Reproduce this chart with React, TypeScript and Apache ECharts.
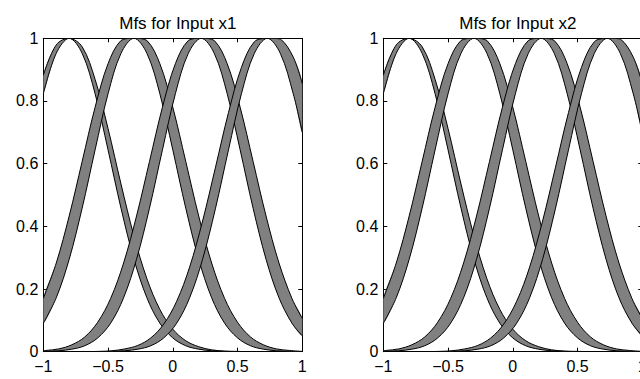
import React, { useEffect, useRef } from "react";
import * as echarts from "echarts";

const titles = ["Mfs for Input x1", "Mfs for Input x2"];
const xTickValues = [-1, -0.5, 0, 0.5, 1];
const yTickValues = [0, 0.2, 0.4, 0.6, 0.8, 1];

// Membership functions (upper / lower bounds of each band)
const mf1X = [-1, -0.9, -0.8, -0.7, -0.6, -0.5, -0.4, -0.3, -0.2, -0.1, 0, 0.1, 0.2, 0.3, 0.4, 0.5, 0.6, 0.7, 0.8, 0.9, 1];
const mf1Upper = [0.882, 0.979, 1, 0.973, 0.869, 0.712, 0.535, 0.369, 0.233, 0.135, 0.072, 0.035, 0.016, 0.006, 0.002, 0.001, 0, 0, 0, 0, 0];
const mf1Lower = [0.823, 0.952, 1, 0.952, 0.823, 0.644, 0.458, 0.295, 0.172, 0.091, 0.044, 0.019, 0.008, 0.003, 0.001, 0, 0, 0, 0, 0, 0];

const mf2X = [-1, -0.9, -0.8, -0.7, -0.6, -0.5, -0.4, -0.3, -0.2, -0.1, 0, 0.1, 0.2, 0.3, 0.4, 0.5, 0.6, 0.7, 0.8, 0.9, 1];
const mf2Upper = [0.17, 0.283, 0.433, 0.607, 0.78, 0.919, 0.993, 1, 0.993, 0.919, 0.78, 0.607, 0.433, 0.283, 0.17, 0.094, 0.047, 0.022, 0.009, 0.004, 0.001];
const mf2Lower = [0.091, 0.172, 0.295, 0.458, 0.644, 0.823, 0.952, 1, 0.952, 0.823, 0.644, 0.458, 0.295, 0.172, 0.091, 0.044, 0.019, 0.008, 0.003, 0.001, 0];

const mf3X = [-1, -0.98, -0.88, -0.78, -0.68, -0.58, -0.48, -0.38, -0.28, -0.18, -0.08, 0.02, 0.12, 0.22, 0.32, 0.42, 0.52, 0.62, 0.72, 0.82, 0.92, 1];
const mf3Upper = [0.003, 0.004, 0.009, 0.022, 0.047, 0.094, 0.17, 0.283, 0.433, 0.607, 0.78, 0.919, 0.993, 1, 0.993, 0.919, 0.78, 0.607, 0.433, 0.283, 0.17, 0.106];
const mf3Lower = [0.001, 0.001, 0.003, 0.008, 0.019, 0.044, 0.091, 0.172, 0.295, 0.458, 0.644, 0.823, 0.952, 1, 0.952, 0.823, 0.644, 0.458, 0.295, 0.172, 0.091, 0.051];

const mf4X = [-1, -0.97, -0.87, -0.77, -0.67, -0.57, -0.47, -0.37, -0.27, -0.17, -0.07, 0.03, 0.13, 0.23, 0.33, 0.43, 0.53, 0.63, 0.73, 0.83, 0.93, 1];
const mf4Upper = [0, 0, 0, 0, 0, 0.001, 0.003, 0.009, 0.02, 0.044, 0.088, 0.161, 0.27, 0.417, 0.589, 0.763, 0.907, 0.989, 1, 0.998, 0.94, 0.855];
const mf4Lower = [0, 0, 0, 0, 0, 0, 0.001, 0.003, 0.008, 0.019, 0.044, 0.091, 0.172, 0.295, 0.458, 0.644, 0.823, 0.952, 1, 0.952, 0.823, 0.7];

const input1Mfs = [
  { x: mf1X, upper: mf1Upper, lower: mf1Lower },
  { x: mf2X, upper: mf2Upper, lower: mf2Lower },
  { x: mf3X, upper: mf3Upper, lower: mf3Lower },
  { x: mf4X, upper: mf4Upper, lower: mf4Lower },
];
// Input x2 looks identical to input x1 in the picture
const input2Mfs = input1Mfs;

const FONT = "'Liberation Sans', Arial, Helvetica, sans-serif";
const GRID_LEFTS = [43.3, 383.3];
const GRID_TOP = 38.3;
const GRID_W = 259;
const GRID_H = 313.4;
const SMOOTH = 0.35;

function fmtX(v: number) {
  if (v < 0) return "\u2212" + String(Math.abs(v));
  return String(v);
}
function fmtY(v: number) {
  return String(+v.toFixed(1));
}

export default function App() {
  const ref = useRef<HTMLDivElement>(null);
  useEffect(() => {
    if (!ref.current) return;
    const chart = echarts.init(ref.current, undefined, { renderer: "svg" });
    const allMfs = [input1Mfs, input2Mfs];

    const grids: any[] = [];
    const xAxes: any[] = [];
    const yAxes: any[] = [];
    const series: any[] = [];
    const titleOpts: any[] = [];

    const axisLine = { show: true, onZero: false, lineStyle: { color: "#000", width: 1 } };
    const axisTick = { show: true, inside: true, length: 4, lineStyle: { color: "#000", width: 1 } };

    for (let g = 0; g < 2; g++) {
      grids.push({
        left: GRID_LEFTS[g], top: GRID_TOP, width: GRID_W, height: GRID_H,
        containLabel: false, outerBoundsMode: "none",
      });
      titleOpts.push({
        text: titles[g],
        left: GRID_LEFTS[g] + GRID_W / 2,
        top: 10,
        textAlign: "center",
        textStyle: { fontSize: 17, fontWeight: "normal", color: "#000", fontFamily: FONT },
      });
      xAxes.push({
        type: "value", gridIndex: g, position: "bottom", min: -1, max: 1, interval: 0.5,
        axisLine, axisTick, splitLine: { show: false },
        axisLabel: { show: true, color: "#000", fontSize: 16, fontFamily: FONT, margin: 7, formatter: fmtX },
      });
      xAxes.push({
        type: "value", gridIndex: g, position: "top", min: -1, max: 1, interval: 0.5,
        axisLine, axisTick, splitLine: { show: false }, axisLabel: { show: false },
      });
      yAxes.push({
        type: "value", gridIndex: g, position: "left", min: 0, max: 1, interval: 0.2,
        axisLine, axisTick, splitLine: { show: false },
        axisLabel: { show: true, color: "#000", fontSize: 16, fontFamily: FONT, margin: 5, formatter: fmtY },
      });
      yAxes.push({
        type: "value", gridIndex: g, position: "right", min: 0, max: 1, interval: 0.2,
        axisLine, axisTick, splitLine: { show: false }, axisLabel: { show: false },
      });

      const mfs = allMfs[g];
      series.push({
        type: "custom",
        coordinateSystem: "cartesian2d",
        xAxisIndex: g * 2,
        yAxisIndex: g * 2,
        silent: true,
        clip: true,
        data: mfs.map(() => [0, 0.5]),
        renderItem: (params: any, api: any) => {
          const mf = mfs[params.dataIndex];
          const up = mf.x.map((x: number, i: number) => api.coord([x, mf.upper[i]]));
          const lo = mf.x.map((x: number, i: number) => api.coord([x, mf.lower[i]]));
          const poly = up.concat(lo.slice().reverse());
          const c0 = [up[0][0], up[0][1]];
          const cons = [c0, c0];
          return {
            type: "group",
            children: [
              { type: "polygon", shape: { points: poly, smooth: SMOOTH, smoothConstraint: cons }, style: { fill: "#808080", stroke: "none" } },
              { type: "polyline", shape: { points: up, smooth: SMOOTH, smoothConstraint: cons }, style: { fill: "none", stroke: "#000", lineWidth: 1 } },
              { type: "polyline", shape: { points: lo, smooth: SMOOTH, smoothConstraint: cons }, style: { fill: "none", stroke: "#000", lineWidth: 1 } },
            ],
          };
        },
      });
    }

    chart.setOption({
      animation: false,
      backgroundColor: "#fff",
      title: titleOpts,
      grid: grids,
      xAxis: xAxes,
      yAxis: yAxes,
      series,
    });
    return () => chart.dispose();
  }, []);
  return <div ref={ref} style={{ position: "fixed", left: 0, top: 0, width: 640, height: 379 }} />;
}
